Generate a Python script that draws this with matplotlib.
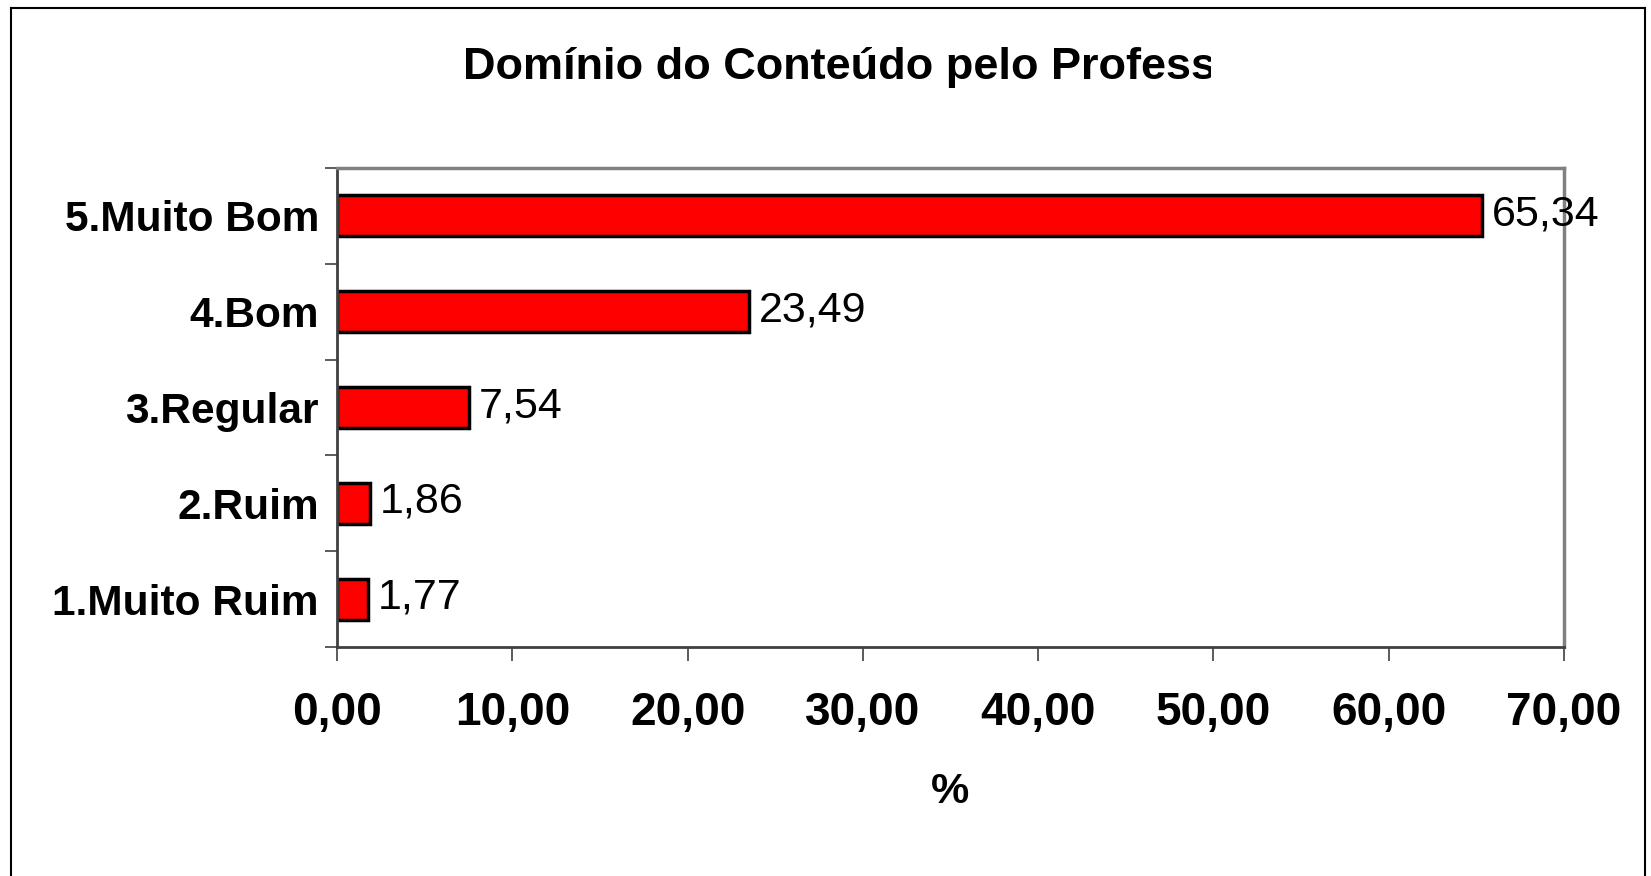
import matplotlib
matplotlib.use("Agg")
import matplotlib.pyplot as plt
from matplotlib.patches import Rectangle
from matplotlib.lines import Line2D

categories = ["1.Muito Ruim", "2.Ruim", "3.Regular", "4.Bom", "5.Muito Bom"]
values = [1.77, 1.86, 7.54, 23.49, 65.34]
value_labels = ["1,77", "1,86", "7,54", "23,49", "65,34"]
xticks = [0, 10, 20, 30, 40, 50, 60, 70]
xtick_labels = ["0,00", "10,00", "20,00", "30,00", "40,00", "50,00", "60,00", "70,00"]
title = "Domínio do Conteúdo pelo Profess"

W, H = 1651, 876
fig = plt.figure(figsize=(W / 100, H / 100), dpi=100)
fig.patch.set_facecolor("white")

ax = fig.add_axes([337 / W, 1 - 647 / H, (1564 - 337) / W, (647 - 168) / H])

pos = range(len(categories))
ax.barh(pos, values, height=0.43, color="#ff0000", edgecolor="black", linewidth=2.5)

for p, v, lab in zip(pos, values, value_labels):
    ax.annotate(lab, (v, p), xytext=(7, 1), textcoords="offset points",
                ha="left", va="center", fontsize=31, family="Liberation Sans",
                clip_on=False)

ax.set_xlim(0, 70)
ax.set_ylim(-0.5, len(categories) - 0.5)

ax.set_xticks(xticks)
ax.set_xticklabels(xtick_labels, fontsize=33, fontweight="bold", family="Liberation Sans")
ax.tick_params(axis="x", direction="out", length=10, width=1.2, color="#404040", pad=22)

# ticks at category boundaries, labels at centres
ax.set_yticks([i - 0.5 for i in range(len(categories) + 1)])
ax.set_yticklabels([])
ax.tick_params(axis="y", which="major", direction="out", length=9, width=1.2, color="#404040")
ax.set_yticks(list(pos), minor=True)
ax.set_yticklabels(categories, minor=True, fontsize=30.5, fontweight="bold",
                   family="Liberation Sans")
ax.tick_params(axis="y", which="minor", length=0, pad=13)

for s in ["left", "bottom"]:
    ax.spines[s].set_color("#404040")
    ax.spines[s].set_linewidth(2)
for s in ["top", "right"]:
    ax.spines[s].set_color("#808080")
    ax.spines[s].set_linewidth(2.5)

fig.text(950 / W, 1 - 792 / H, "%", ha="center", va="center", fontsize=31,
         fontweight="bold", family="Liberation Sans")

t = fig.text(463 / W, 1 - 67 / H, title, ha="left", va="center", fontsize=32.5,
             fontweight="bold", family="Liberation Sans")
clip = Rectangle((0, 0), 1211 / W, 1, transform=fig.transFigure)
t.set_clip_path(clip)

# outer chart frame
fx0, fx1, fy0 = 11 / W, 1645 / W, 1 - 8 / H
fig.add_artist(Line2D([fx0, fx1], [fy0, fy0], transform=fig.transFigure, color="black", lw=1.5))
fig.add_artist(Line2D([fx0, fx0], [0, fy0], transform=fig.transFigure, color="black", lw=1.5))
fig.add_artist(Line2D([fx1, fx1], [0, fy0], transform=fig.transFigure, color="black", lw=1.5))

fig.savefig("out.png", dpi=100)
